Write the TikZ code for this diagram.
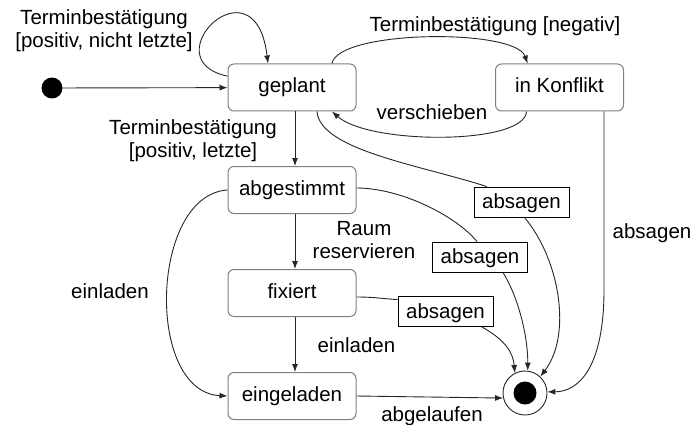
\documentclass[tikz,border=0pt]{standalone}
\usepackage{fontspec}
\setmainfont{Liberation Sans}
\usetikzlibrary{arrows.meta}
\begin{document}
\begin{tikzpicture}[x=1pt,y=-1pt,
  font=\fontsize{20.5}{23}\selectfont,
  state/.style={draw=black!50, rounded corners=6pt, line width=1pt,
    minimum width=128pt, minimum height=47pt, inner sep=0pt,
    text height=15pt, text depth=4pt},
  cancelbox/.style={draw=black, line width=0.9pt, fill=white,
    minimum width=95pt, minimum height=30pt, inner sep=0pt,
    text height=15pt, text depth=2pt},
  edge/.style={draw=black!85, line width=0.9pt},
  trans/.style={edge, -{Latex[length=8pt,width=6pt]}},
  lbl/.style={align=center, inner sep=0pt}]
\useasboundingbox (0,0) rectangle (695,425);

% states
\node[circle, fill=black, minimum size=21pt, inner sep=0pt] (init) at (52,88) {};
\node[state] (geplant)    at (292,87.5)  {geplant};
\node[state] (konflikt)   at (559.5,87.5) {in Konflikt};
\node[state] (abgestimmt) at (292,190)   {abgestimmt};
\node[state] (fixiert)    at (292,293)   {fixiert};
\node[state] (eingeladen) at (292,396)   {eingeladen};
\node[circle, draw=black!85, line width=0.9pt, minimum size=44pt, inner sep=0pt] (final) at (525,393) {};
\node[circle, fill=black, minimum size=23pt, inner sep=0pt] (finaldot) at (final) {};

% cancel labels on the transitions into the final state
\node[cancelbox] (cancelA) at (521.5,202) {absagen};
\node[cancelbox] (cancelB) at (480,257)   {absagen};
\node[cancelbox] (cancelC) at (445.5,311.5) {absagen};

% transitions
\draw[trans] (init) -- (geplant);
\draw[trans] (geplant.170) .. controls (150,60) and (255,-45) .. (geplant.135.6);
\draw[trans] (geplant.31) .. controls (338,30) and (515,28) .. (konflikt.143.3);
\draw[trans] (konflikt.216.7) .. controls (525,145) and (370,145) .. (geplant.329);
\draw[trans] ([xshift=3pt]geplant.south) -- ([xshift=3pt]abgestimmt.north);
\draw[trans] ([xshift=3pt]abgestimmt.south) -- ([xshift=3pt]fixiert.north);
\draw[trans] ([xshift=3pt]fixiert.south) -- ([xshift=3pt]eingeladen.north);
\draw[trans] (abgestimmt.west) .. controls (150,195) and (145,392) .. (eingeladen.west);
\draw[trans] (eingeladen.east) -- (final.193);

\draw[edge] ([xshift=25pt]geplant.south) .. controls (320,150) and (420,165) .. (cancelA.156);
\draw[trans] ([xshift=3pt]cancelA.south) .. controls (560,260) and (572,335) .. (final.47);

\draw[edge] ([yshift=2pt]abgestimmt.east) .. controls (400,188) and (455,215) .. ([xshift=-3pt]cancelB.north);
\draw[trans] (cancelB.326) .. controls (520,300) and (528,340) .. (final.83);

\draw[edge] ([yshift=-4pt]fixiert.east) .. controls (375,297) and (385,299) .. (cancelC.166);
\draw[trans] (cancelC.337.5) .. controls (505,340) and (513,352) .. (final.117);

\draw[trans] ([xshift=44.5pt]konflikt.south) -- ++(0,178) .. controls +(0,80) and +(30,0) .. (final.3);

% transition labels
\node[lbl] (lblLoop) at (104,31) {Terminbestätigung\\{}[positiv, nicht letzte]};
\node[lbl, anchor=base] (lblNeg) at (495,32) {Terminbestätigung [negativ]};
\node[lbl, anchor=base] (lblMove) at (432,119) {verschieben};
\node[lbl] (lblLast) at (193,141) {Terminbestätigung\\{}[positiv, letzte]};
\node[lbl] (lblRoom) at (364,240) {Raum\\reservieren};
\node[lbl, anchor=base] (lblInvA) at (110,298) {einladen};
\node[lbl, anchor=base] (lblInvB) at (356.5,352) {einladen};
\node[lbl, anchor=base] (lblCancel) at (652,238) {absagen};
\node[lbl, anchor=base] (lblExp) at (432,421) {abgelaufen};
\end{tikzpicture}
\end{document}
